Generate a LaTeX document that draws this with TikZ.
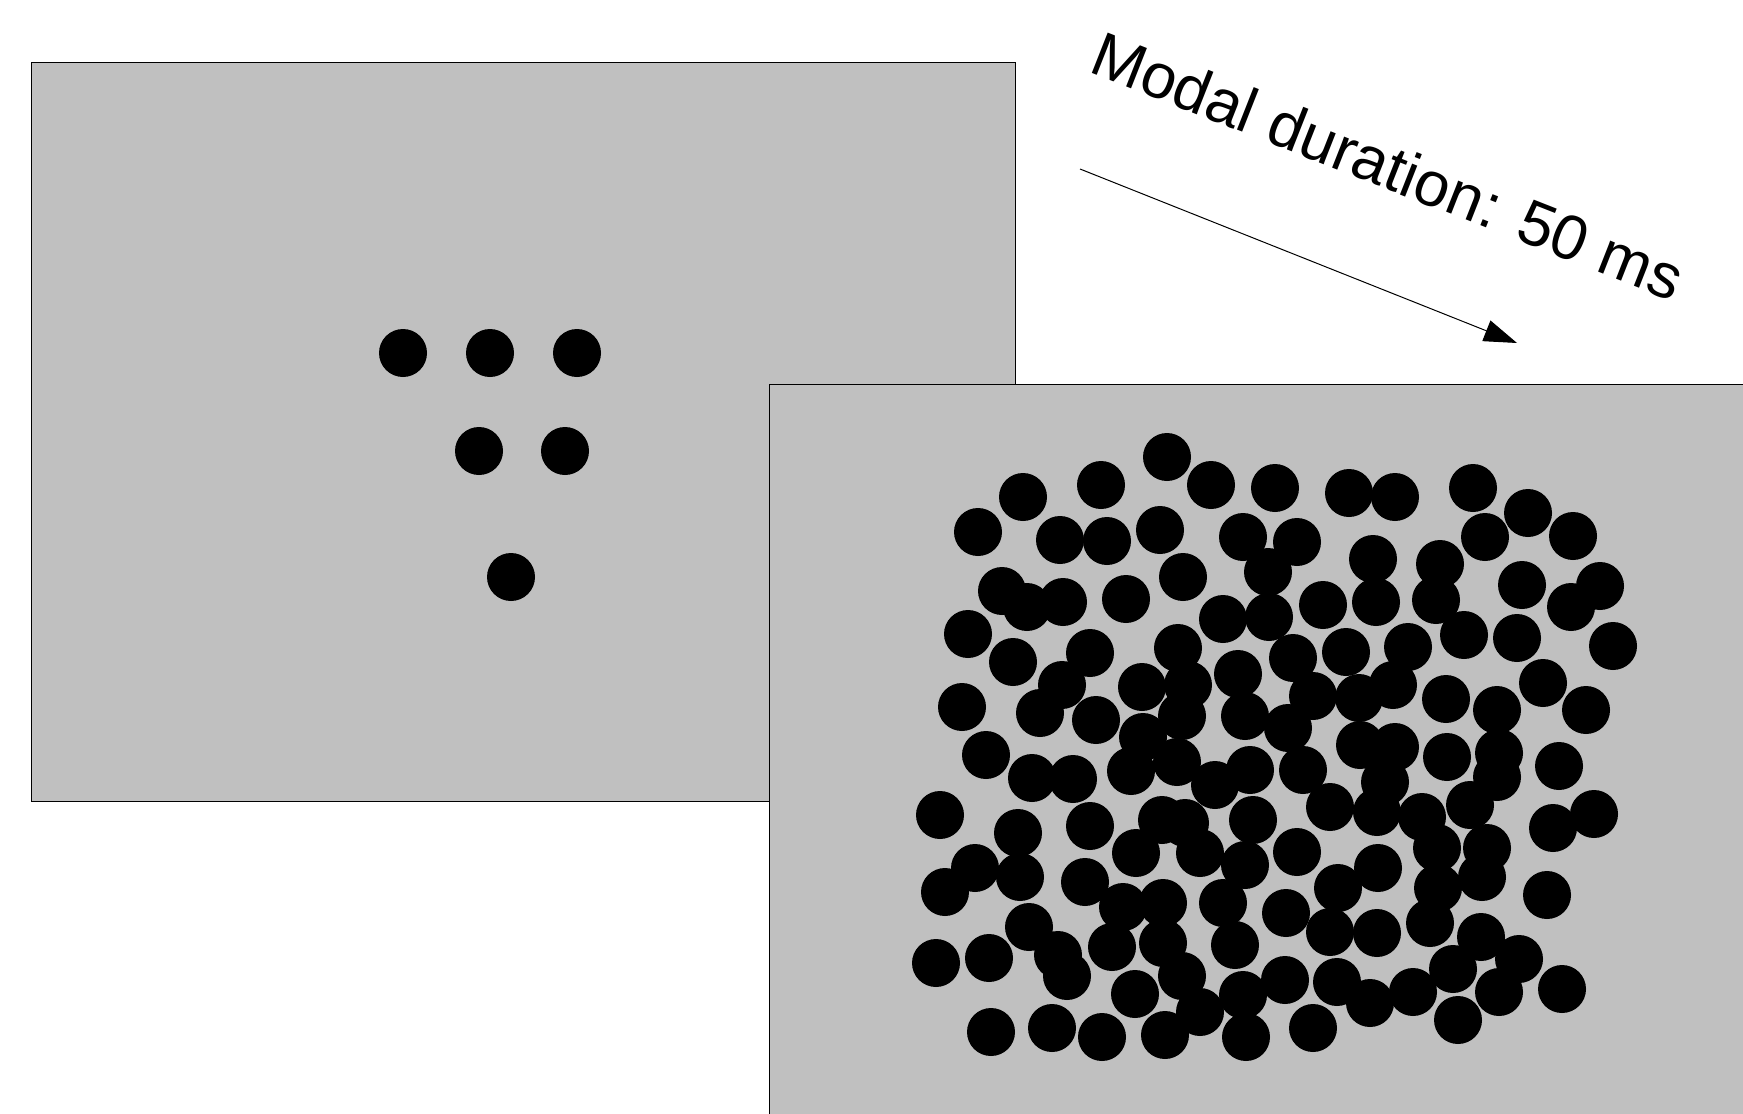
\documentclass[tikz,border=0pt]{standalone}
\usepackage{fontspec}
\setmainfont{Liberation Sans}
\usetikzlibrary{arrows.meta}
\definecolor{screen}{HTML}{C0C0C0}
\begin{document}
\begin{tikzpicture}[x=0.5pt,y=-0.5pt,
  panel/.style={fill=screen,draw=black,line width=0.5pt},
  dot/.style={fill=black},
  timing/.style={line width=0.5pt,-{Triangle[length=16.5pt,width=11pt]}},
  caption/.style={rotate=-21.5,anchor=base west,inner sep=0pt,
    font=\fontsize{31.5}{38}\selectfont}]
\useasboundingbox (0,0) rectangle (1743,1113);
\clip (0,0) rectangle (1743,1113);
\fill[white] (0,0) rectangle (1743,1113);

% first display: six dots
\draw[panel] (31,63) rectangle (1015,801);
\foreach \x/\y in {403/353,490/353,577/353,479/451,565/451,511/577}
  \fill[dot] (\x,\y) circle[radius=12pt];

% second display: dense dot cloud
\draw[panel] (769,384) rectangle (1800,1200);
\foreach \x/\y in {
  1167/457,1023/497,1101/485,1211/485,1275/488,1349/493,1395/497,1473/488,
  1528/513,1573/536,978/532,1060/540,1107/541,1160/530,1243/537,1297/542,
  1485/537,1373/559,1440/564,
  1268/572,1002/591,1027/607,1063/602,1126/599,1183/577,1223/619,1269/617,
  1522/585,1600/586,1323/605,1376/602,1436/600,1571/607,968/634,1013/662,
  1090/653,1178/648,1238/674,1293/658,1464/635,1517/638,1613/646,1346/652,
  1408/647,1062/685,1142/687,1188/685,962/707,1040/713,1096/720,1182/716,
  1245/716,1288/728,1313/696,1359/698,1393/685,1446/699,1497/710,1543/683,
  1586/710,
  986/755,1032/778,1073/779,1143/737,1131/771,940/815,1018/833,1090/826,
  975/868,1020/877,945/892,1136/853,1085/882,1177/762,1215/785,1250/770,
  1303/770,1330/807,1377/812,1360/745,1395/747,1385/782,1253/820,1162/820,
  1185/823,
  1200/853,1297/852,1245/865,1378/868,1338/888,1447/757,1499/753,1497/777,
  1559/766,1470/805,1422/817,1553/828,1594/814,1437/848,1487/848,1482/877,
  1438/888,1547/895,
  1123/907,1029/927,1058/955,1067/976,1112/947,936/963,989/958,1135/994,
  991/1032,1052/1028,1102/1037,1163/903,1223/903,1286/913,1330/932,1377/933,
  1430/923,1163/943,1235/945,1182/976,1285/980,1243/995,1337/982,1370/1003,
  1413/992,1200/1012,1165/1035,1246/1037,1313/1028,1481/937,1453/969,
  1519/959,1499/992,1562/989,1458/1020}
  \fill[dot] (\x,\y) circle[radius=12pt];

% timing arrow and its label
\coordinate (arrowstart) at (1080,169);
\coordinate (arrowtip) at (1517,343);
\draw[timing] (arrowstart) -- (arrowtip);
\node[caption] (duration) at (1087,71) {Modal duration: 50 ms};
\end{tikzpicture}
\end{document}
